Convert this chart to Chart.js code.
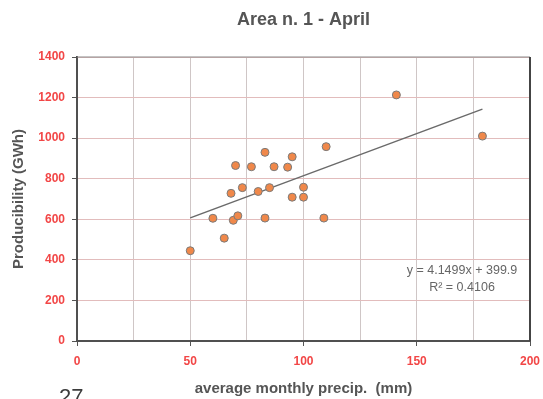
<!DOCTYPE html>
<html>
<head>
<meta charset="utf-8">
<script src="https://cdn.jsdelivr.net/npm/chart.js@4"></script>
<style>
  html, body { margin: 0; padding: 0; background: #fff; }
  #wrap { position: relative; width: 543px; height: 399px; }
</style>
</head>
<body>
<div id="wrap"><canvas id="c" width="543" height="399"></canvas></div>
<script>
// ---- data ----
const precipX = [50, 60, 65, 69, 71, 68, 73, 70, 77, 83, 83, 80, 85, 87, 93, 95, 95, 100, 100, 109, 110, 141, 179];
const producibilityY = [445, 605, 507, 595, 617, 728, 756, 865, 859, 930, 606, 737, 756, 859, 857, 908, 709, 758, 709, 606, 958, 1213, 1010];
const trendX = [50, 179];
const trendY = [607, 1143];
const xTickLabels = [0, 50, 100, 150, 200];
const yTickLabels = [0, 200, 400, 600, 800, 1000, 1200, 1400];
const titleText = 'Area n. 1 - April';
const xTitle = 'average monthly precip.  (mm)';
const yTitle = 'Producibility (GWh)';
const equationLines = ['y = 4.1499x + 399.9', 'R² = 0.4106'];
const pageNumber = '27.';

const FONT = '"Liberation Sans", Arial, Helvetica, sans-serif';
const RED = '#f24646';
const GRAY = '#555555';

const scatterData = precipX.map((x, i) => ({ x: x, y: producibilityY[i] }));
const trendData = trendX.map((x, i) => ({ x: x, y: trendY[i] }));

const extras = {
  id: 'extras',
  afterDraw(chart) {
    const ctx = chart.ctx;
    const a = chart.chartArea;
    ctx.save();
    // title, centred over the plot area
    ctx.fillStyle = GRAY;
    ctx.font = 'bold 18px ' + FONT;
    ctx.textAlign = 'center';
    ctx.textBaseline = 'middle';
    ctx.fillText(titleText, (a.left + a.right) / 2, 20);
    // top border
    ctx.strokeStyle = '#8a8a8a';
    ctx.lineWidth = 1.2;
    ctx.beginPath();
    ctx.moveTo(a.left, a.top);
    ctx.lineTo(a.right, a.top);
    ctx.stroke();
    // right border
    ctx.strokeStyle = '#444';
    ctx.lineWidth = 2;
    ctx.beginPath();
    ctx.moveTo(a.right, a.top);
    ctx.lineTo(a.right, a.bottom);
    ctx.stroke();
    // equation
    ctx.fillStyle = '#666';
    ctx.font = '12.5px ' + FONT;
    ctx.textAlign = 'center';
    ctx.textBaseline = 'middle';
    ctx.fillText(equationLines[0], 462, 271);
    ctx.fillText(equationLines[1], 462, 288);
    // page number
    ctx.fillStyle = '#3c3c3c';
    ctx.font = '22px ' + FONT;
    ctx.textAlign = 'left';
    ctx.textBaseline = 'alphabetic';
    ctx.fillText(pageNumber, 59, 404);
    ctx.restore();
  }
};

new Chart(document.getElementById('c'), {
  type: 'scatter',
  data: {
    datasets: [
      {
        label: 'data',
        data: scatterData,
        backgroundColor: '#f0884a',
        borderColor: '#7a7a7a',
        borderWidth: 1,
        pointRadius: 4,
        order: 1
      },
      {
        label: 'trend',
        type: 'line',
        data: trendData,
        borderColor: '#6a6a6a',
        borderWidth: 1.5,
        pointRadius: 0,
        fill: false,
        order: 2
      }
    ]
  },
  options: {
    responsive: false,
    animation: false,
    devicePixelRatio: 1,
    layout: { padding: { left: 0, right: 13, top: 57, bottom: 0 } },
    plugins: {
      legend: { display: false },
      tooltip: { enabled: false },
      title: { display: false }
    },
    scales: {
      x: {
        type: 'linear',
        min: 0,
        max: 200,
        afterFit(scale) { scale.height = 58; scale.paddingRight = 0; scale.paddingLeft = 0; },
        ticks: {
          stepSize: 25,
          autoSkip: false,
          maxRotation: 0,
          padding: 8,
          color: RED,
          font: { family: FONT, size: 12, weight: 'bold' },
          callback: (v) => xTickLabels.includes(v) ? String(v) : ''
        },
        grid: {
          color: '#cfc6c6',
          lineWidth: 1,
          drawTicks: true,
          tickLength: 5,
          tickColor: (ctx) => (ctx.tick && ctx.tick.value % 50 === 0) ? '#555' : 'rgba(0,0,0,0)'
        },
        border: { display: true, color: '#505050', width: 2 },
        title: {
          display: true,
          text: xTitle,
          color: GRAY,
          font: { family: FONT, size: 15, weight: 'bold' },
          padding: { top: 0, bottom: 1 }
        }
      },
      y: {
        type: 'linear',
        min: 0,
        max: 1400,
        afterFit(scale) { scale.width = 77; scale.paddingTop = 0; scale.paddingBottom = 0; },
        ticks: {
          stepSize: 200,
          padding: 7,
          color: RED,
          font: { family: FONT, size: 12, weight: 'bold' },
          callback: (v) => yTickLabels.includes(v) ? String(v) : ''
        },
        grid: {
          color: '#e2bcbc',
          lineWidth: 1,
          drawTicks: true,
          tickLength: 5,
          tickColor: '#555'
        },
        border: { display: true, color: '#505050', width: 2 },
        title: {
          display: true,
          text: yTitle,
          color: GRAY,
          font: { family: FONT, size: 15, weight: 'bold' },
          padding: { top: 10, bottom: 4 }
        }
      }
    }
  },
  plugins: [extras]
});
</script>
</body>
</html>
